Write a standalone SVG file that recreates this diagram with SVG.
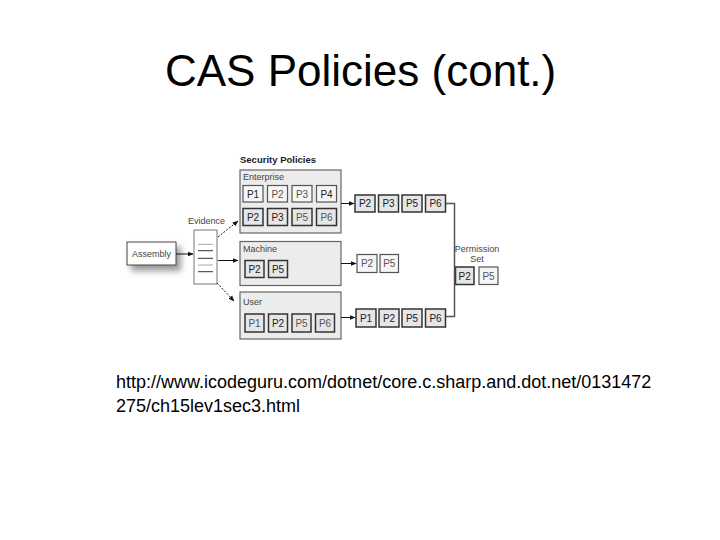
<svg xmlns="http://www.w3.org/2000/svg" width="720" height="540" viewBox="0 0 720 540">
<style>
text{font-family:"Liberation Sans",Arial,sans-serif;fill:#111}
.title{font-size:44px;fill:#000}
.url{font-size:18px;fill:#000}
.lbl{font-size:9px;fill:#444}
.hdr{font-size:9.5px;font-weight:bold;fill:#222}
.pl{font-size:10px;text-anchor:middle;fill:#222}
.pf{font-size:10px;text-anchor:middle;fill:#555}
.grp{fill:#ececec;stroke:#666;stroke-width:1.2}
.pw{fill:#f6f6f6;stroke:#555;stroke-width:1.2}
.pg{fill:#e6e6e6;stroke:#333;stroke-width:1.5}
.conn{stroke:#111;stroke-width:1;fill:none}
.dash{stroke-dasharray:2 1.5}
.brk{stroke:#555;stroke-width:1.5;fill:none}
</style>
<defs>
<marker id="ah" viewBox="0 0 10 10" refX="9" refY="5" markerWidth="6" markerHeight="6" orient="auto" markerUnits="userSpaceOnUse">
<path d="M0,1 L10,5 L0,9 Z" fill="#111"/>
</marker>
<filter id="sh" x="-30%" y="-30%" width="170%" height="190%">
<feGaussianBlur stdDeviation="3"/>
</filter>
</defs>
<rect width="720" height="540" fill="#fff"/>
<text class="title" x="165" y="86">CAS Policies (cont.)</text>

<text class="hdr" x="240" y="163">Security Policies</text>

<g id="assembly">
<rect x="131" y="247" width="50" height="24" fill="#999" filter="url(#sh)"/>
<rect x="127" y="242" width="49" height="23" fill="#fff" stroke="#444" stroke-width="1"/>
<text class="lbl" x="151.5" y="256.5" text-anchor="middle">Assembly</text>
</g>

<g id="evidence">
<text class="lbl" x="188" y="224">Evidence</text>
<rect x="194" y="230" width="23" height="54" fill="#fff" stroke="#777" stroke-width="1"/>
<line x1="198" y1="244.3" x2="213" y2="244.3" stroke="#aaa"/>
<line x1="198" y1="250.7" x2="213" y2="250.7" stroke="#333"/>
<line x1="198" y1="258.3" x2="213" y2="258.3" stroke="#333"/>
<line x1="198" y1="265" x2="213" y2="265" stroke="#aaa"/>
<line x1="198" y1="271.7" x2="213" y2="271.7" stroke="#333"/>
</g>

<g id="enterprise">
<rect class="grp" x="240" y="170" width="101" height="63"/>
<text class="lbl" x="243" y="180">Enterprise</text>
<rect class="pw" x="243" y="185.5" width="20" height="16.5"/><text class="pl" x="253" y="197.5">P1</text>
<rect class="pw" x="267.5" y="185.5" width="20" height="16.5"/><text class="pf" x="277.5" y="197.5">P2</text>
<rect class="pw" x="292" y="185.5" width="20" height="16.5"/><text class="pf" x="302" y="197.5">P3</text>
<rect class="pw" x="316.5" y="185.5" width="20" height="16.5"/><text class="pl" x="326.5" y="197.5">P4</text>
<rect class="pg" x="243" y="208.5" width="20" height="17"/><text class="pl" x="253" y="220.5">P2</text>
<rect class="pg" x="267.5" y="208.5" width="20" height="17"/><text class="pl" x="277.5" y="220.5">P3</text>
<rect class="pg" x="292" y="208.5" width="20" height="17"/><text class="pf" x="302" y="220.5">P5</text>
<rect class="pg" x="316.5" y="208.5" width="20" height="17"/><text class="pf" x="326.5" y="220.5">P6</text>
</g>

<g id="machine">
<rect class="grp" x="240" y="241.5" width="101" height="44"/>
<text class="lbl" x="243" y="252">Machine</text>
<rect class="pg" x="245" y="260.5" width="19" height="17"/><text class="pl" x="254.5" y="272.5">P2</text>
<rect class="pg" x="268.5" y="260.5" width="19" height="17"/><text class="pl" x="278" y="272.5">P5</text>
</g>

<g id="user">
<rect class="grp" x="240" y="292" width="101" height="47"/>
<text class="lbl" x="243" y="305">User</text>
<rect class="pg" x="245" y="314" width="19" height="18"/><text class="pf" x="254.5" y="326.5">P1</text>
<rect class="pg" x="268.5" y="314" width="19" height="18"/><text class="pl" x="278" y="326.5">P2</text>
<rect class="pg" x="292" y="314" width="19" height="18"/><text class="pf" x="301.5" y="326.5">P5</text>
<rect class="pg" x="315.5" y="314" width="19" height="18"/><text class="pf" x="325" y="326.5">P6</text>
</g>

<g id="enterprise-result">
<rect class="pg" x="355" y="195" width="20" height="17"/><text class="pl" x="365" y="207">P2</text>
<rect class="pg" x="378.5" y="195" width="20" height="17"/><text class="pl" x="388.5" y="207">P3</text>
<rect class="pg" x="402" y="195" width="20" height="17"/><text class="pl" x="412" y="207">P5</text>
<rect class="pg" x="425.5" y="195" width="20" height="17"/><text class="pl" x="435.5" y="207">P6</text>
</g>

<g id="machine-result">
<rect class="pw" x="357" y="254.5" width="20" height="18"/><text class="pf" x="367" y="267">P2</text>
<rect class="pw" x="380" y="254.5" width="18.5" height="18"/><text class="pf" x="389.3" y="267">P5</text>
</g>

<g id="user-result">
<rect class="pg" x="356" y="309" width="20" height="18"/><text class="pl" x="366" y="321.5">P1</text>
<rect class="pg" x="379" y="309" width="20" height="18"/><text class="pl" x="389" y="321.5">P2</text>
<rect class="pg" x="402" y="309" width="20" height="18"/><text class="pl" x="412" y="321.5">P5</text>
<rect class="pg" x="425.5" y="309" width="20" height="18"/><text class="pl" x="435.5" y="321.5">P6</text>
</g>

<g id="permission-set">
<text class="lbl" x="477" y="252" text-anchor="middle">Permission</text>
<text class="lbl" x="477" y="262" text-anchor="middle">Set</text>
<rect class="pg" x="455.5" y="267" width="18.5" height="17.5"/><text class="pl" x="464.7" y="279.5">P2</text>
<rect class="pw" x="479" y="267" width="19" height="17.5"/><text class="pf" x="488.5" y="279.5">P5</text>
</g>

<g id="connectors">
<line class="conn" x1="176" y1="254" x2="193" y2="254" marker-end="url(#ah)"/>
<line class="conn dash" x1="218" y1="237" x2="238" y2="221" marker-end="url(#ah)"/>
<line class="conn" x1="218" y1="260.5" x2="238" y2="260.5" marker-end="url(#ah)"/>
<line class="conn dash" x1="217" y1="283" x2="234" y2="301" marker-end="url(#ah)"/>
<line class="conn" x1="341" y1="203.5" x2="354" y2="203.5" marker-end="url(#ah)"/>
<line class="conn" x1="341" y1="263.5" x2="356" y2="263.5" marker-end="url(#ah)"/>
<line class="conn" x1="341" y1="317.5" x2="355" y2="317.5" marker-end="url(#ah)"/>
<path class="brk" d="M446,203.5 H454.5 V316.5 H446"/>
</g>

<text class="url" x="116" y="388">http://www.icodeguru.com/dotnet/core.c.sharp.and.dot.net/0131472</text>
<text class="url" x="116" y="412">275/ch15lev1sec3.html</text>
</svg>
